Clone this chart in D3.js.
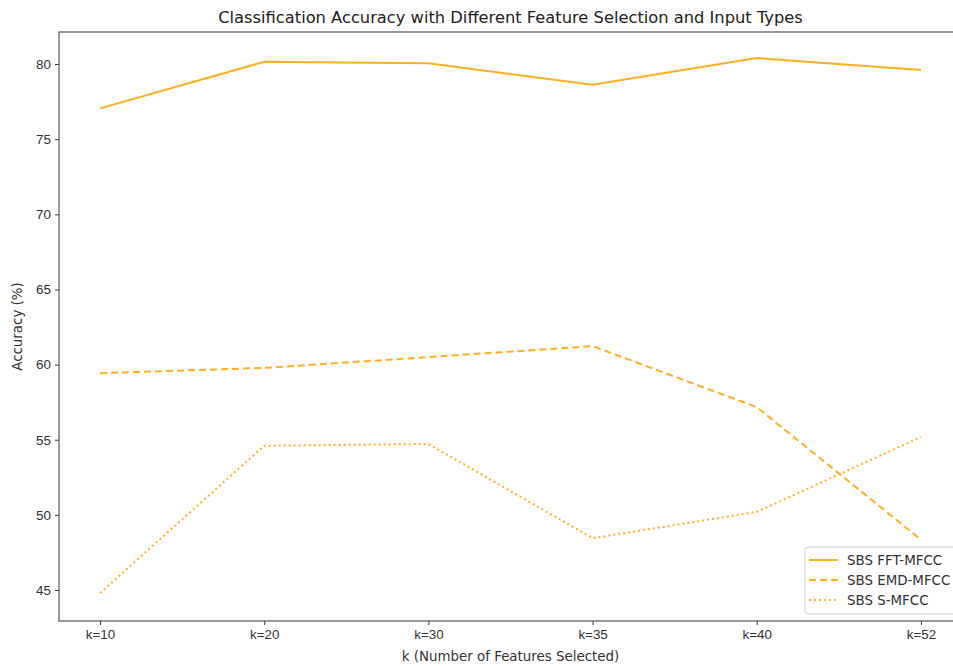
<!DOCTYPE html>
<html>
<head>
<meta charset="utf-8">
<script src="https://cdn.jsdelivr.net/npm/d3@7"></script>
<style>
  body { margin: 0; background: #fff; }
  svg { font-family: "DejaVu Sans", sans-serif; display: block; }
</style>
</head>
<body>
<div id="vis"></div>
<script>
// Chart data
var categories = ['k=10', 'k=20', 'k=30', 'k=35', 'k=40', 'k=52'];
var fftMfcc = [77.05, 80.15, 80.05, 78.62, 80.4, 79.6];
var emdMfcc = [59.43, 59.78, 60.5, 61.23, 57.17, 48.35];
var sMfcc = [44.8, 54.6, 54.72, 48.45, 50.2, 55.18];
var seriesNames = ['SBS FFT-MFCC', 'SBS EMD-MFCC', 'SBS S-MFCC'];
var yTicks = [45, 50, 55, 60, 65, 70, 75, 80];

// SVG size and plot area
var width = 953, height = 666;
var margin = { top: 32, right: -9, bottom: 45, left: 59 };
var drawWidth = width - margin.left - margin.right;
var drawHeight = height - margin.top - margin.bottom;

var svg = d3.select('#vis').append('svg')
    .attr('width', width)
    .attr('height', height);

var g = svg.append('g')
    .attr('transform', 'translate(' + margin.left + ',' + margin.top + ')');

// Scales - point scale with matplotlib-like 5% margins
var xScale = d3.scalePoint()
    .domain(categories)
    .range([0, drawWidth])
    .padding(0.25);

var yScale = d3.scaleLinear()
    .domain([42.94, 82.13])
    .range([drawHeight, 0]);

// Axes
var xAxis = d3.axisBottom(xScale).tickSize(4).tickPadding(4);
var yAxis = d3.axisLeft(yScale).tickValues(yTicks).tickSize(4).tickPadding(4);

var gx = g.append('g')
    .attr('transform', 'translate(0,' + drawHeight + ')')
    .call(xAxis);
var gy = g.append('g').call(yAxis);

[gx, gy].forEach(function(ax) {
    ax.select('.domain').remove();
    ax.selectAll('line').attr('stroke', '#333').attr('stroke-width', 1);
    ax.selectAll('text').attr('fill', '#333').style('font-size', '13.4px');
});

// Frame (spines)
g.append('rect')
    .attr('width', drawWidth)
    .attr('height', drawHeight)
    .attr('fill', 'none')
    .attr('stroke', '#555')
    .attr('stroke-width', 1.2);

// Lines
var color = '#ffb020';
var dashes = [null, '7,4', '2,3'];
var allSeries = [fftMfcc, emdMfcc, sMfcc];

var line = d3.line()
    .x(function(d, i) { return xScale(categories[i]); })
    .y(function(d) { return yScale(d); });

allSeries.forEach(function(vals, i) {
    g.append('path')
        .datum(vals)
        .attr('d', line)
        .attr('fill', 'none')
        .attr('stroke', color)
        .attr('stroke-width', 2)
        .attr('stroke-dasharray', dashes[i]);
});

// Title and axis labels
svg.append('text')
    .attr('x', margin.left + drawWidth / 2)
    .attr('y', 23)
    .attr('text-anchor', 'middle')
    .attr('fill', '#222')
    .style('font-size', '16.3px')
    .text('Classification Accuracy with Different Feature Selection and Input Types');

svg.append('text')
    .attr('x', margin.left + drawWidth / 2)
    .attr('y', 661)
    .attr('text-anchor', 'middle')
    .attr('fill', '#333')
    .style('font-size', '13.4px')
    .text('k (Number of Features Selected)');

svg.append('text')
    .attr('transform', 'translate(22,' + (margin.top + drawHeight / 2) + ') rotate(-90)')
    .attr('text-anchor', 'middle')
    .attr('fill', '#333')
    .style('font-size', '13.4px')
    .text('Accuracy (%)');

// Legend
var legend = svg.append('g').attr('transform', 'translate(805,547)');
legend.append('rect')
    .attr('width', 170)
    .attr('height', 67)
    .attr('rx', 3)
    .attr('fill', '#fff')
    .attr('fill-opacity', 0.8)
    .attr('stroke', '#ccc');

seriesNames.forEach(function(name, i) {
    var y = 13 + i * 20;
    legend.append('line')
        .attr('x1', 4).attr('x2', 33)
        .attr('y1', y).attr('y2', y)
        .attr('stroke', color)
        .attr('stroke-width', 2)
        .attr('stroke-dasharray', dashes[i]);
    legend.append('text')
        .attr('x', 42)
        .attr('y', y + 5)
        .attr('fill', '#333')
        .style('font-size', '13.4px')
        .text(name);
});
</script>
</body>
</html>
